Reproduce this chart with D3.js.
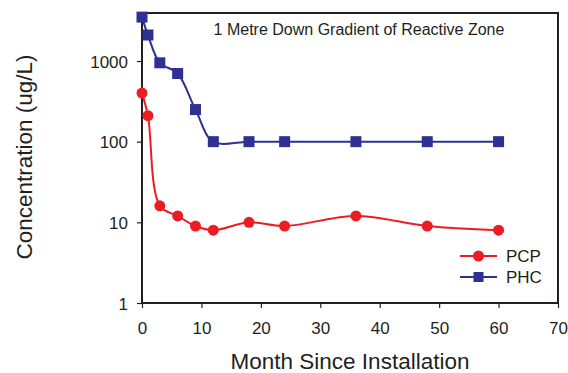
<!DOCTYPE html>
<html>
<head>
<meta charset="utf-8">
<script src="https://cdn.jsdelivr.net/npm/d3@7"></script>
<style>
  body { margin: 0; background: #fff; }
  text { font-family: "Liberation Sans", Arial, sans-serif; fill: #231f20; }
</style>
</head>
<body>
<svg id="chart"></svg>
<script>
var WIDTH = 568;
var HEIGHT = 373;

//chart data
var months = [0, 1, 3, 6, 9, 12, 18, 24, 36, 48, 60];
var pcp = [400, 210, 16, 12, 9, 8, 10, 9, 12, 9, 8];
var phc = [3500, 2100, 950, 700, 250, 100, 100, 100, 100, 100, 100];
var xTicks = [0, 10, 20, 30, 40, 50, 60, 70];
var yTicks = [1, 10, 100, 1000];
var seriesNames = ["PCP", "PHC"];

var margin = { top: 13, right: 10, bottom: 70, left: 142 };
var plotW = 558 - margin.left;
var plotH = 303 - margin.top;

var svg = d3.select("#chart").attr("width", WIDTH).attr("height", HEIGHT);
var g = svg.append("g").attr("transform", "translate(" + margin.left + "," + margin.top + ")");

var x = d3.scaleLinear().domain([0, 70]).range([0, plotW]);
var y = d3.scaleLog().domain([1, Math.pow(10, 3.595)]).range([plotH, 0]);

//axes
var xAxis = g.append("g")
  .attr("transform", "translate(0," + plotH + ")")
  .call(d3.axisBottom(x).tickValues(xTicks).tickSize(5).tickPadding(14).tickSizeOuter(0));
var yAxis = g.append("g")
  .call(d3.axisLeft(y).tickValues(yTicks).tickFormat(d3.format("d")).tickSize(5).tickPadding(9).tickSizeOuter(0));

[xAxis, yAxis].forEach(function (a) {
  a.selectAll("text").style("font-size", "17px").style("font-family", "'Liberation Sans', Arial, sans-serif").attr("fill", "#231f20");
  a.selectAll("line").attr("stroke", "#231f20").attr("stroke-width", 1.2);
  a.select(".domain").remove();
});
yAxis.selectAll("text").attr("dy", "0.36em");

//frame
g.append("rect")
  .attr("width", plotW).attr("height", plotH)
  .attr("fill", "none").attr("stroke", "#231f20").attr("stroke-width", 2);

//series
var colors = ["#ed1c24", "#2e3192"];
var line = d3.line()
  .x(function (d) { return x(d[0]); })
  .y(function (d) { return y(d[1]); })
  .curve(d3.curveCatmullRom.alpha(0.5));

var series = [pcp, phc].map(function (vals) {
  return months.map(function (m, i) { return [m, vals[i]]; });
});

series.forEach(function (s, i) {
  g.append("path")
    .datum(s)
    .attr("d", line)
    .attr("fill", "none")
    .attr("stroke", colors[i])
    .attr("stroke-width", 2);
});

//PCP markers
g.selectAll(".pcp")
  .data(series[0])
  .enter()
  .append("circle")
  .attr("cx", function (d) { return x(d[0]); })
  .attr("cy", function (d) { return y(d[1]); })
  .attr("r", 5.5)
  .attr("fill", colors[0]);

//PHC markers
g.selectAll(".phc")
  .data(series[1])
  .enter()
  .append("rect")
  .attr("x", function (d) { return x(d[0]) - 5.5; })
  .attr("y", function (d) { return y(d[1]) - 5.5; })
  .attr("width", 11).attr("height", 11)
  .attr("fill", colors[1]);

//title inside plot
svg.append("text")
  .attr("x", 359).attr("y", 35)
  .attr("text-anchor", "middle")
  .style("font-size", "16px")
  .text("1 Metre Down Gradient of Reactive Zone");

//legend
var legend = svg.append("g").attr("transform", "translate(460,256)");
seriesNames.forEach(function (name, i) {
  var row = legend.append("g").attr("transform", "translate(0," + i * 21 + ")");
  row.append("line").attr("x1", 0).attr("x2", 37).attr("y1", 0).attr("y2", 0)
    .attr("stroke", colors[i]).attr("stroke-width", 2);
  if (i === 0) {
    row.append("circle").attr("cx", 18.5).attr("cy", 0).attr("r", 5.5).attr("fill", colors[i]);
  } else {
    row.append("rect").attr("x", 13.5).attr("y", -5).attr("width", 10).attr("height", 10).attr("fill", colors[i]);
  }
  row.append("text").attr("x", 46).attr("y", 6).style("font-size", "17px").text(name);
});

//axis titles
svg.append("text")
  .attr("x", 350).attr("y", 369)
  .attr("text-anchor", "middle")
  .style("font-size", "22.5px")
  .text("Month Since Installation");

svg.append("text")
  .attr("transform", "translate(32,157) rotate(-90)")
  .attr("text-anchor", "middle")
  .style("font-size", "22.5px")
  .text("Concentration (ug/L)");
</script>
</body>
</html>
